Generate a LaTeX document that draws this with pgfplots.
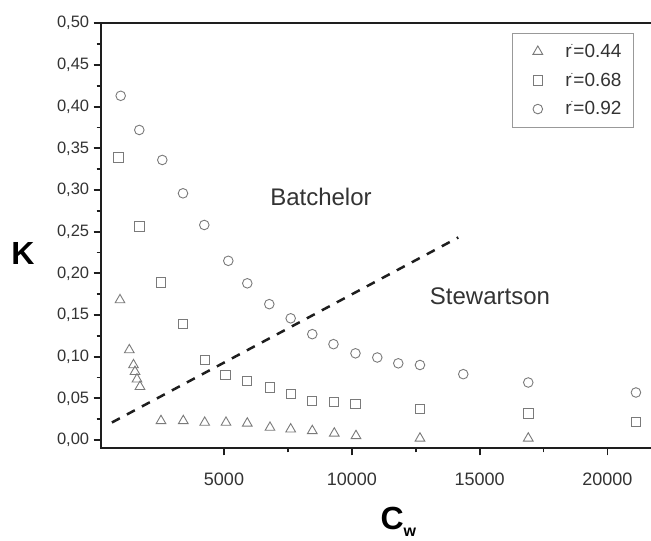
\documentclass[border=0pt]{standalone}
\usepackage{fontspec}
\setmainfont{Liberation Sans}
\usepackage{pgfplots}
\pgfplotsset{compat=1.18}
\definecolor{mk}{HTML}{7A7A7A}
\definecolor{tx}{HTML}{333333}
\definecolor{ax}{HTML}{1E1E1E}
\begin{document}
\begin{tikzpicture}
\useasboundingbox (0,0) rectangle (651pt,541pt);
\begin{axis}[
  at={(100.7pt,92.7pt)}, anchor=south west,
  scale only axis, width=559.3pt, height=425pt,
  xmin=176, xmax=22058, ymin=-0.00996, ymax=0.5,
  axis line style={line width=2.2pt, color=ax},
  tick align=outside, xtick pos=left, ytick pos=left,
  major tick length=7pt, minor tick length=4pt,
  every tick/.style={line width=1.8pt, ax},
  xtick={5000,10000,15000,20000}, minor x tick num=1,
  ytick={0,0.05,...,0.51}, minor y tick num=1,
  scaled ticks=false,
  /pgf/number format/assume math mode=true,
  xticklabel style={/pgf/number format/1000 sep={}, font=\fontsize{18}{20}\selectfont, text=tx, yshift=-14pt},
  yticklabel style={/pgf/number format/.cd, fixed, fixed zerofill, precision=2, use comma, /tikz/.cd, font=\fontsize{16.5}{18}\selectfont, text=tx, xshift=-1pt},
  ylabel={\fontsize{32}{34}\selectfont\bfseries K},
  ylabel style={rotate=-90, at={(axis description cs:-0.139,0.4595)}, anchor=center},
  xlabel={\fontsize{32}{34}\selectfont\bfseries C\raisebox{-7pt}{\fontsize{16}{16}\selectfont w}},
  xlabel style={at={(axis description cs:0.494,-0.1922)}, anchor=base west},
  legend image code/.code={\draw[#1] plot coordinates {(15pt,0pt)}; \path (0pt,0pt) (40pt,0pt);},
  legend style={at={(0.9535,0.978)}, anchor=north east, draw=black!40, line width=1pt,
    font=\fontsize{19}{21}\selectfont, text=tx, row sep=10pt, inner xsep=10pt, inner ysep=9pt},
  legend cell align=left,
]
\addplot[only marks, mark=triangle, mark size=5.6pt, mark options={draw=mk, line width=0.9pt, fill=none}] coordinates {
(931,0.168) (1295,0.108) (1459,0.090) (1518,0.082) (1596,0.073) (1713,0.064)
(2535,0.023) (3407,0.023) (4245,0.021) (5078,0.021) (5911,0.020) (6799,0.015)
(7609,0.013) (8454,0.011) (9315,0.008) (10164,0.005) (12667,0.002) (16904,0.002)
};
\addlegendentry{r\raisebox{12pt}{\kern-1pt\fontsize{10}{10}\selectfont.}=0.44}
\addplot[only marks, mark=square, mark size=4.7pt, mark options={draw=mk, line width=0.9pt, fill=none}] coordinates {
(865,0.339) (1686,0.256) (2535,0.189) (3396,0.139) (4256,0.096) (5050,0.078)
(5899,0.071) (6799,0.063) (7621,0.055) (8442,0.047) (9303,0.046) (10144,0.043)
(12667,0.037) (16904,0.032) (21117,0.022)
};
\addlegendentry{r\raisebox{12pt}{\kern-1pt\fontsize{10}{10}\selectfont.}=0.68}
\addplot[only marks, mark=o, mark size=4.8pt, mark options={draw=mk, line width=0.9pt, fill=none}] coordinates {
(958,0.413) (1686,0.372) (2586,0.336) (3396,0.296) (4229,0.258) (5168,0.215)
(5911,0.188) (6772,0.163) (7609,0.146) (8454,0.127) (9283,0.115) (10144,0.104)
(10997,0.099) (11818,0.092) (12667,0.090) (14361,0.079) (16904,0.069) (21117,0.057)
};
\addlegendentry{r\raisebox{12pt}{\kern-1pt\fontsize{10}{10}\selectfont.}=0.92}
\addplot[ax, line width=2.5pt, dash pattern=on 9pt off 8pt, forget plot] coordinates {(614,0.021) (14166,0.243)};
\node[text=tx, font=\fontsize{24}{26}\selectfont] at (axis cs:8794,0.2916) {Batchelor};
\node[text=tx, font=\fontsize{24}{26}\selectfont] at (axis cs:15406,0.1728) {Stewartson};
\end{axis}
\end{tikzpicture}
\end{document}
